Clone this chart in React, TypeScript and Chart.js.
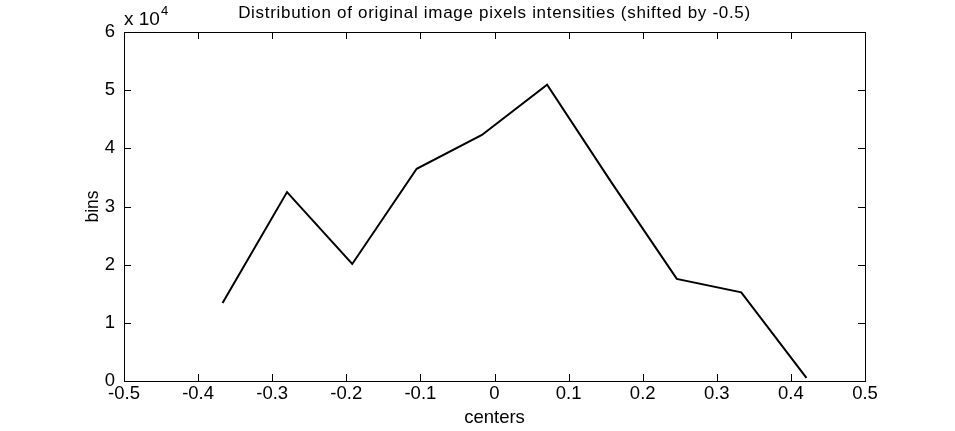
import React, { useEffect, useRef } from "react";
import { Chart, registerables } from "chart.js";

Chart.register(...registerables);

const centers = [-0.367, -0.280, -0.192, -0.105, -0.017, 0.071, 0.158, 0.246, 0.333, 0.421];
const bins = [13420, 32480, 20120, 36480, 42300, 50950, 34100, 17550, 15240, 550];
const xTicks = [-0.5, -0.4, -0.3, -0.2, -0.1, 0, 0.1, 0.2, 0.3, 0.4, 0.5];
const yTicks = [0, 10000, 20000, 30000, 40000, 50000, 60000];
const titleText = "Distribution of original image pixels intensities (shifted by -0.5)";
const xLabel = "centers";
const yLabel = "bins";

const FONT = "'Liberation Sans', Arial, Helvetica, sans-serif";

const boxPlugin = {
  id: "matlabBox",
  afterDraw(chart: any) {
    const { ctx, chartArea } = chart;
    const { left, right, top, bottom } = chartArea;
    const xs = chart.scales.x;
    const ys = chart.scales.y;
    ctx.save();
    ctx.strokeStyle = "#000";
    ctx.lineWidth = 1;
    ctx.strokeRect(Math.round(left) + 0.5, Math.round(top) + 0.5, Math.round(right - left), Math.round(bottom - top));
    const tl = 7;
    ctx.beginPath();
    xTicks.forEach((v) => {
      const px = Math.round(xs.getPixelForValue(v)) + 0.5;
      ctx.moveTo(px, bottom);
      ctx.lineTo(px, bottom - tl);
      ctx.moveTo(px, top);
      ctx.lineTo(px, top + tl);
    });
    yTicks.forEach((v) => {
      const py = Math.round(ys.getPixelForValue(v)) + 0.5;
      ctx.moveTo(left, py);
      ctx.lineTo(left + tl, py);
      ctx.moveTo(right, py);
      ctx.lineTo(right - tl, py);
    });
    ctx.stroke();
    ctx.fillStyle = "#000";
    ctx.textBaseline = "alphabetic";
    // title
    ctx.textAlign = "center";
    ctx.font = `17px ${FONT}`;
    try { (ctx as any).letterSpacing = "0.7px"; } catch (e) {}
    ctx.fillText(titleText, (left + right) / 2, 18);
    try { (ctx as any).letterSpacing = "0px"; } catch (e) {}
    // exponent label
    ctx.textAlign = "left";
    ctx.font = `19px ${FONT}`;
    ctx.fillText("x 10", left, 25);
    const w = ctx.measureText("x 10").width;
    ctx.font = `13px ${FONT}`;
    ctx.fillText("4", left + w + 1, 15);
    ctx.restore();
  },
};

export default function App() {
  const ref = useRef<HTMLCanvasElement>(null);
  useEffect(() => {
    if (!ref.current) return;
    const chart = new Chart(ref.current, {
      type: "scatter",
      data: {
        datasets: [
          {
            data: centers.map((c, i) => ({ x: c, y: bins[i] })),
            showLine: true,
            borderColor: "#000",
            borderWidth: 2,
            pointRadius: 0,
            fill: false,
          },
        ],
      },
      options: {
        responsive: false,
        animation: false,
        layout: { padding: { left: 0, right: 90, top: 32, bottom: 0 } },
        plugins: {
          legend: { display: false },
          tooltip: { enabled: false },
          title: { display: false },
        },
        scales: {
          x: {
            type: "linear",
            min: -0.5,
            max: 0.5,
            afterBuildTicks: (s: any) => {
              s.ticks = xTicks.map((v) => ({ value: v }));
            },
            afterFit: (s: any) => {
              s.height = 50;
            },
            grid: { display: false, drawTicks: false },
            border: { display: false },
            ticks: {
              color: "#000",
              font: { family: FONT, size: 18.5 },
              padding: 2,
              maxRotation: 0,
              autoSkip: false,
              callback: (v: any) => String(Math.round(Number(v) * 10) / 10),
            },
            title: {
              display: true,
              text: xLabel,
              color: "#000",
              font: { family: FONT, size: 18.5 },
              padding: { top: 0, bottom: 2 },
            },
          },
          y: {
            type: "linear",
            min: 0,
            max: 60000,
            afterBuildTicks: (s: any) => {
              s.ticks = yTicks.map((v) => ({ value: v }));
            },
            afterFit: (s: any) => {
              s.width = 124;
            },
            grid: { display: false, drawTicks: false },
            border: { display: false },
            ticks: {
              color: "#000",
              font: { family: FONT, size: 18.5 },
              padding: 9,
              autoSkip: false,
              callback: (v: any) => String(Math.round(Number(v) / 10000)),
            },
            title: {
              display: true,
              text: yLabel,
              color: "#000",
              font: { family: FONT, size: 17.5 },
              padding: { top: 83, bottom: 0 },
            },
          },
        },
      },
      plugins: [boxPlugin],
    });
    return () => chart.destroy();
  }, []);
  return (
    <div style={{ position: "fixed", left: 0, top: 0, width: 955, height: 431, background: "#fff" }}>
      <canvas ref={ref} width={955} height={431} />
    </div>
  );
}
